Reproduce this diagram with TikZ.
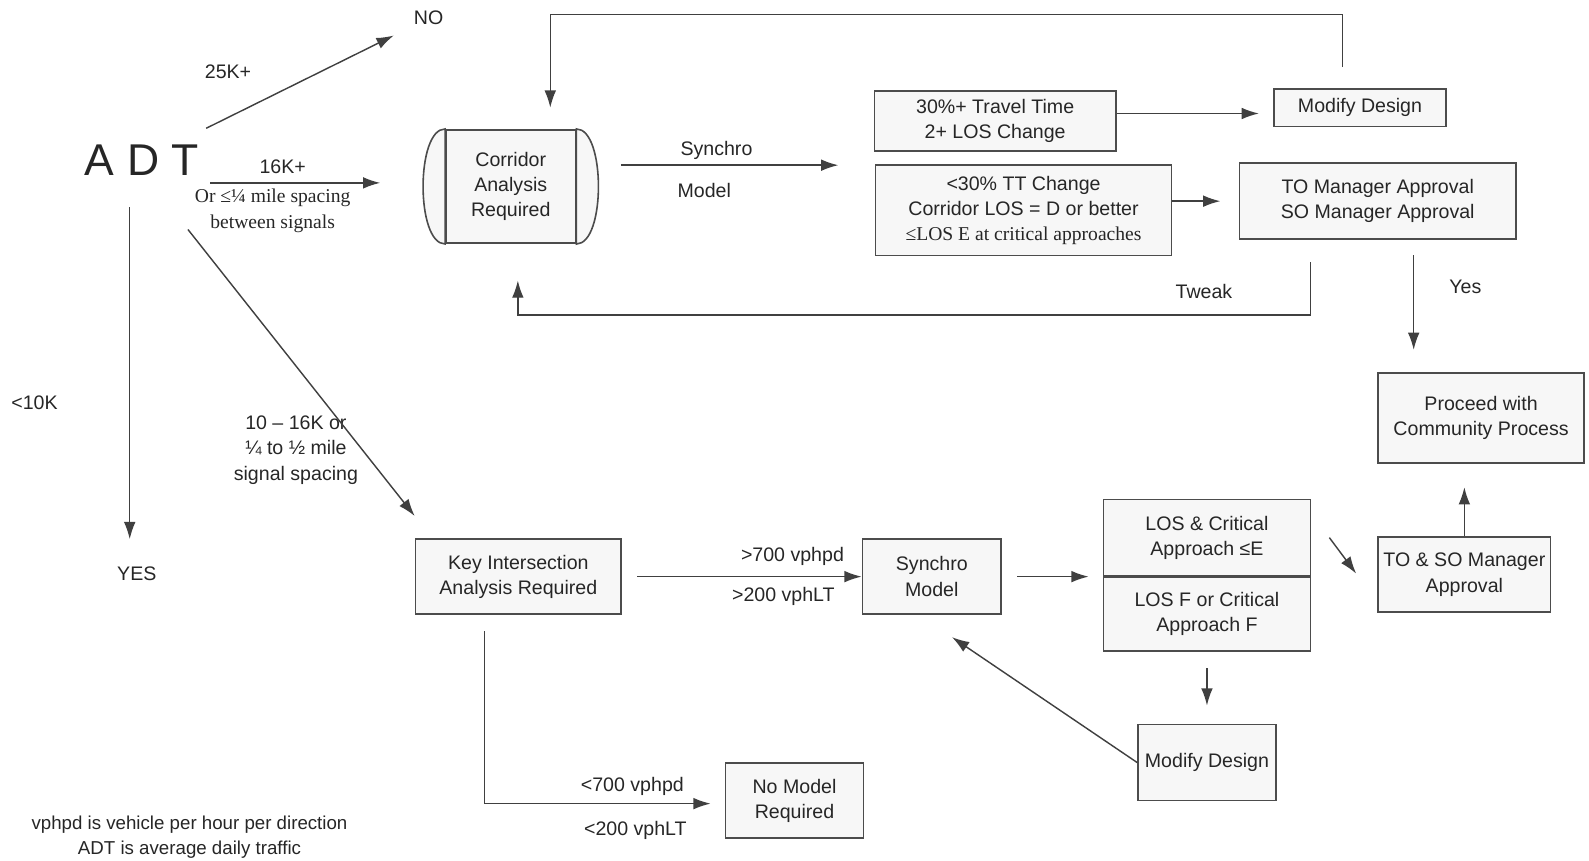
\documentclass[tikz,border=0pt]{standalone}
\usepackage{fontspec}
\setmainfont{Liberation Sans}
\newfontfamily\timesfont{Liberation Serif}
\usetikzlibrary{arrows.meta, positioning}

\tikzset{
  box/.style={draw=black!70, fill=black!3, line width=0.9pt, align=center, inner sep=2pt},
  arr/.style={draw=black!75, line width=0.8pt, -{Latex[length=3.4mm,width=2.3mm]}},
  lbl/.style={align=center, inner sep=1pt},
}

\begin{document}
\begin{tikzpicture}[x=0.02cm, y=-0.02cm, font=\fontsize{11}{14.2}\selectfont, text=black!85]
\useasboundingbox (0,0) rectangle (1568,849);

% boxes
\node[box, minimum width=2.56cm, minimum height=2.24cm] (corr) at (504,184) {Corridor\\Analysis\\Required};
\draw[draw=black!70, fill=black!3, line width=0.9pt] (corr.north west) .. controls +(-29,0) and +(-29,0) .. (corr.south west) -- cycle;
\draw[draw=black!70, fill=black!3, line width=0.9pt] (corr.north east) .. controls +(29,0) and +(29,0) .. (corr.south east) -- cycle;
\node[box, minimum width=4.76cm, minimum height=1.18cm] (tt) at (982,119.5) {30\%+ Travel Time\\2+ LOS Change};
\node[box, minimum width=3.4cm, minimum height=0.74cm] (mod1) at (1342,106.5) {Modify Design};
\node[box, minimum width=5.84cm, minimum height=1.78cm] (lt) at (1010,207.5) {<30\% TT Change\\Corridor LOS = D or better\\{\timesfont ≤LOS E at critical approaches}};
\node[box, minimum width=5.46cm, minimum height=1.5cm] (mgr) at (1359.5,198.5) {TO Manager Approval\\SO Manager Approval};
\node[box, minimum width=4.06cm, minimum height=1.78cm] (proc) at (1461.5,412.5) {Proceed with\\Community Process};
\node[box, minimum width=3.4cm, minimum height=1.48cm] (tso) at (1445,567) {TO \& SO Manager\\Approval};
\node[box, minimum width=4.08cm, minimum height=1.5cm] (losA) at (1191,530.5) {LOS \& Critical\\Approach ≤E};
\node[box, minimum width=4.08cm, minimum height=1.46cm, below=0pt of losA] (losB) {LOS F or Critical\\Approach F};
\node[box, minimum width=2.74cm, minimum height=1.48cm] (syn) at (919.5,569) {Synchro\\Model};
\node[box, minimum width=4.06cm, minimum height=1.48cm] (key) at (511.5,569) {Key Intersection\\Analysis Required};
\node[box, minimum width=2.72cm, minimum height=1.5cm] (mod2) at (1191,752.5) {Modify Design};
\node[box, minimum width=2.72cm, minimum height=1.48cm] (nomod) at (784,790) {No Model\\Required};

% labels
\node[lbl] (no) at (423,18) {NO};
\node[lbl] (k25) at (225,71) {25K+};
\node[inner sep=0, font=\fontsize{25}{30}\selectfont] (adt) at (140,158) {A D T};
\node[lbl] (k16) at (279,165) {16K+};
\node[lbl, font={\timesfont\fontsize{11}{14.2}\selectfont}] (spc) at (269,208) {Or ≤¼ mile spacing\\between signals};
\node[lbl] (k10) at (34,397) {<10K};
\node[lbl] (yes) at (135,566) {YES};
\node[lbl] (mid) at (292,444) {10 – 16K or\\¼ to ½ mile\\signal spacing};
\node[lbl] (syl) at (707,148) {Synchro};
\node[lbl] (mol) at (695,188) {Model};
\node[lbl] (twk) at (1188,288) {Tweak};
\node[lbl] (yes2) at (1446,283) {Yes};
\node[lbl] (g700) at (782,549) {>700 vphpd};
\node[lbl] (g200) at (773,589) {>200 vphLT};
\node[lbl] (l700) at (624,776) {<700 vphpd};
\node[lbl] (l200) at (627,819) {<200 vphLT};
\node[lbl, font=\fontsize{10.5}{14.2}\selectfont] (note) at (187,826) {vphpd is vehicle per hour per direction\\ADT is average daily traffic};

% free ends
\coordinate (a2s) at ([shift={(11,7)}]adt.south east);
\coordinate (a3s) at ([shift={(-12,31)}]adt.south);
\coordinate (a4s) at ([shift={(-11,53)}]adt.south east);
\coordinate (synS) at ([shift={(44,-21)}]corr.east);
\coordinate (ttS) at ([shift={(0,-7.5)}]tt.east);
\coordinate (yesS) at ([shift={(35.5,15)}]mgr.south);

% connectors
\draw[arr, shorten <=0.72cm, shorten >=0.4cm] (adt) -- (no);
\draw[arr, shorten >=1.28cm] (a2s) -- (a2s -| corr.west);
\draw[arr, shorten >=0.5cm] (a3s) -- (a3s |- yes.north);
\draw[arr] (a4s) -- ([shift={(0,-22)}]key.north west);
\draw[arr, shorten >=0.72cm] (synS) -- (synS -| lt.west);
\draw[arr, shorten >=0.28cm] (ttS) -- (ttS -| mod1.west);
\draw[arr, shorten >=0.36cm] (lt.east |- mgr.west) -- (mgr.west);
\draw[arr] ([shift={(-17,-21)}]mod1.north) -- ++(0,-52) -| ([shift={(39,-21)}]corr.north);
\draw[arr] ([shift={(-66.5,22)}]mgr.south) -- ++(0,52) -| ([shift={(7,36)}]corr.south);
\draw[arr, shorten >=0.44cm] (yesS) -- (yesS |- proc.north);
\draw[arr, shorten >=0.46cm] (tso.north) -- (tso.north |- proc.south);
\draw[arr] ([shift={(18,0)}]losA.east) -- ([shift={(-21,-1)}]tso.west);
\draw[arr, shorten <=0.3cm, shorten >=0.28cm] (syn.east) -- (syn.east -| losA.west);
\draw[arr, shorten <=0.3cm] (key.east) -- (syn.west);
\draw[arr, shorten <=0.32cm, shorten >=0.36cm] (losB.south) -- (mod2.north);
\draw[arr] (mod2.west) -- ([shift={(20,22)}]syn.south);
\draw[arr] ([shift={(-33.5,16)}]key.south) |- ([shift={(-14,3)}]nomod.west);

\end{tikzpicture}
\end{document}
